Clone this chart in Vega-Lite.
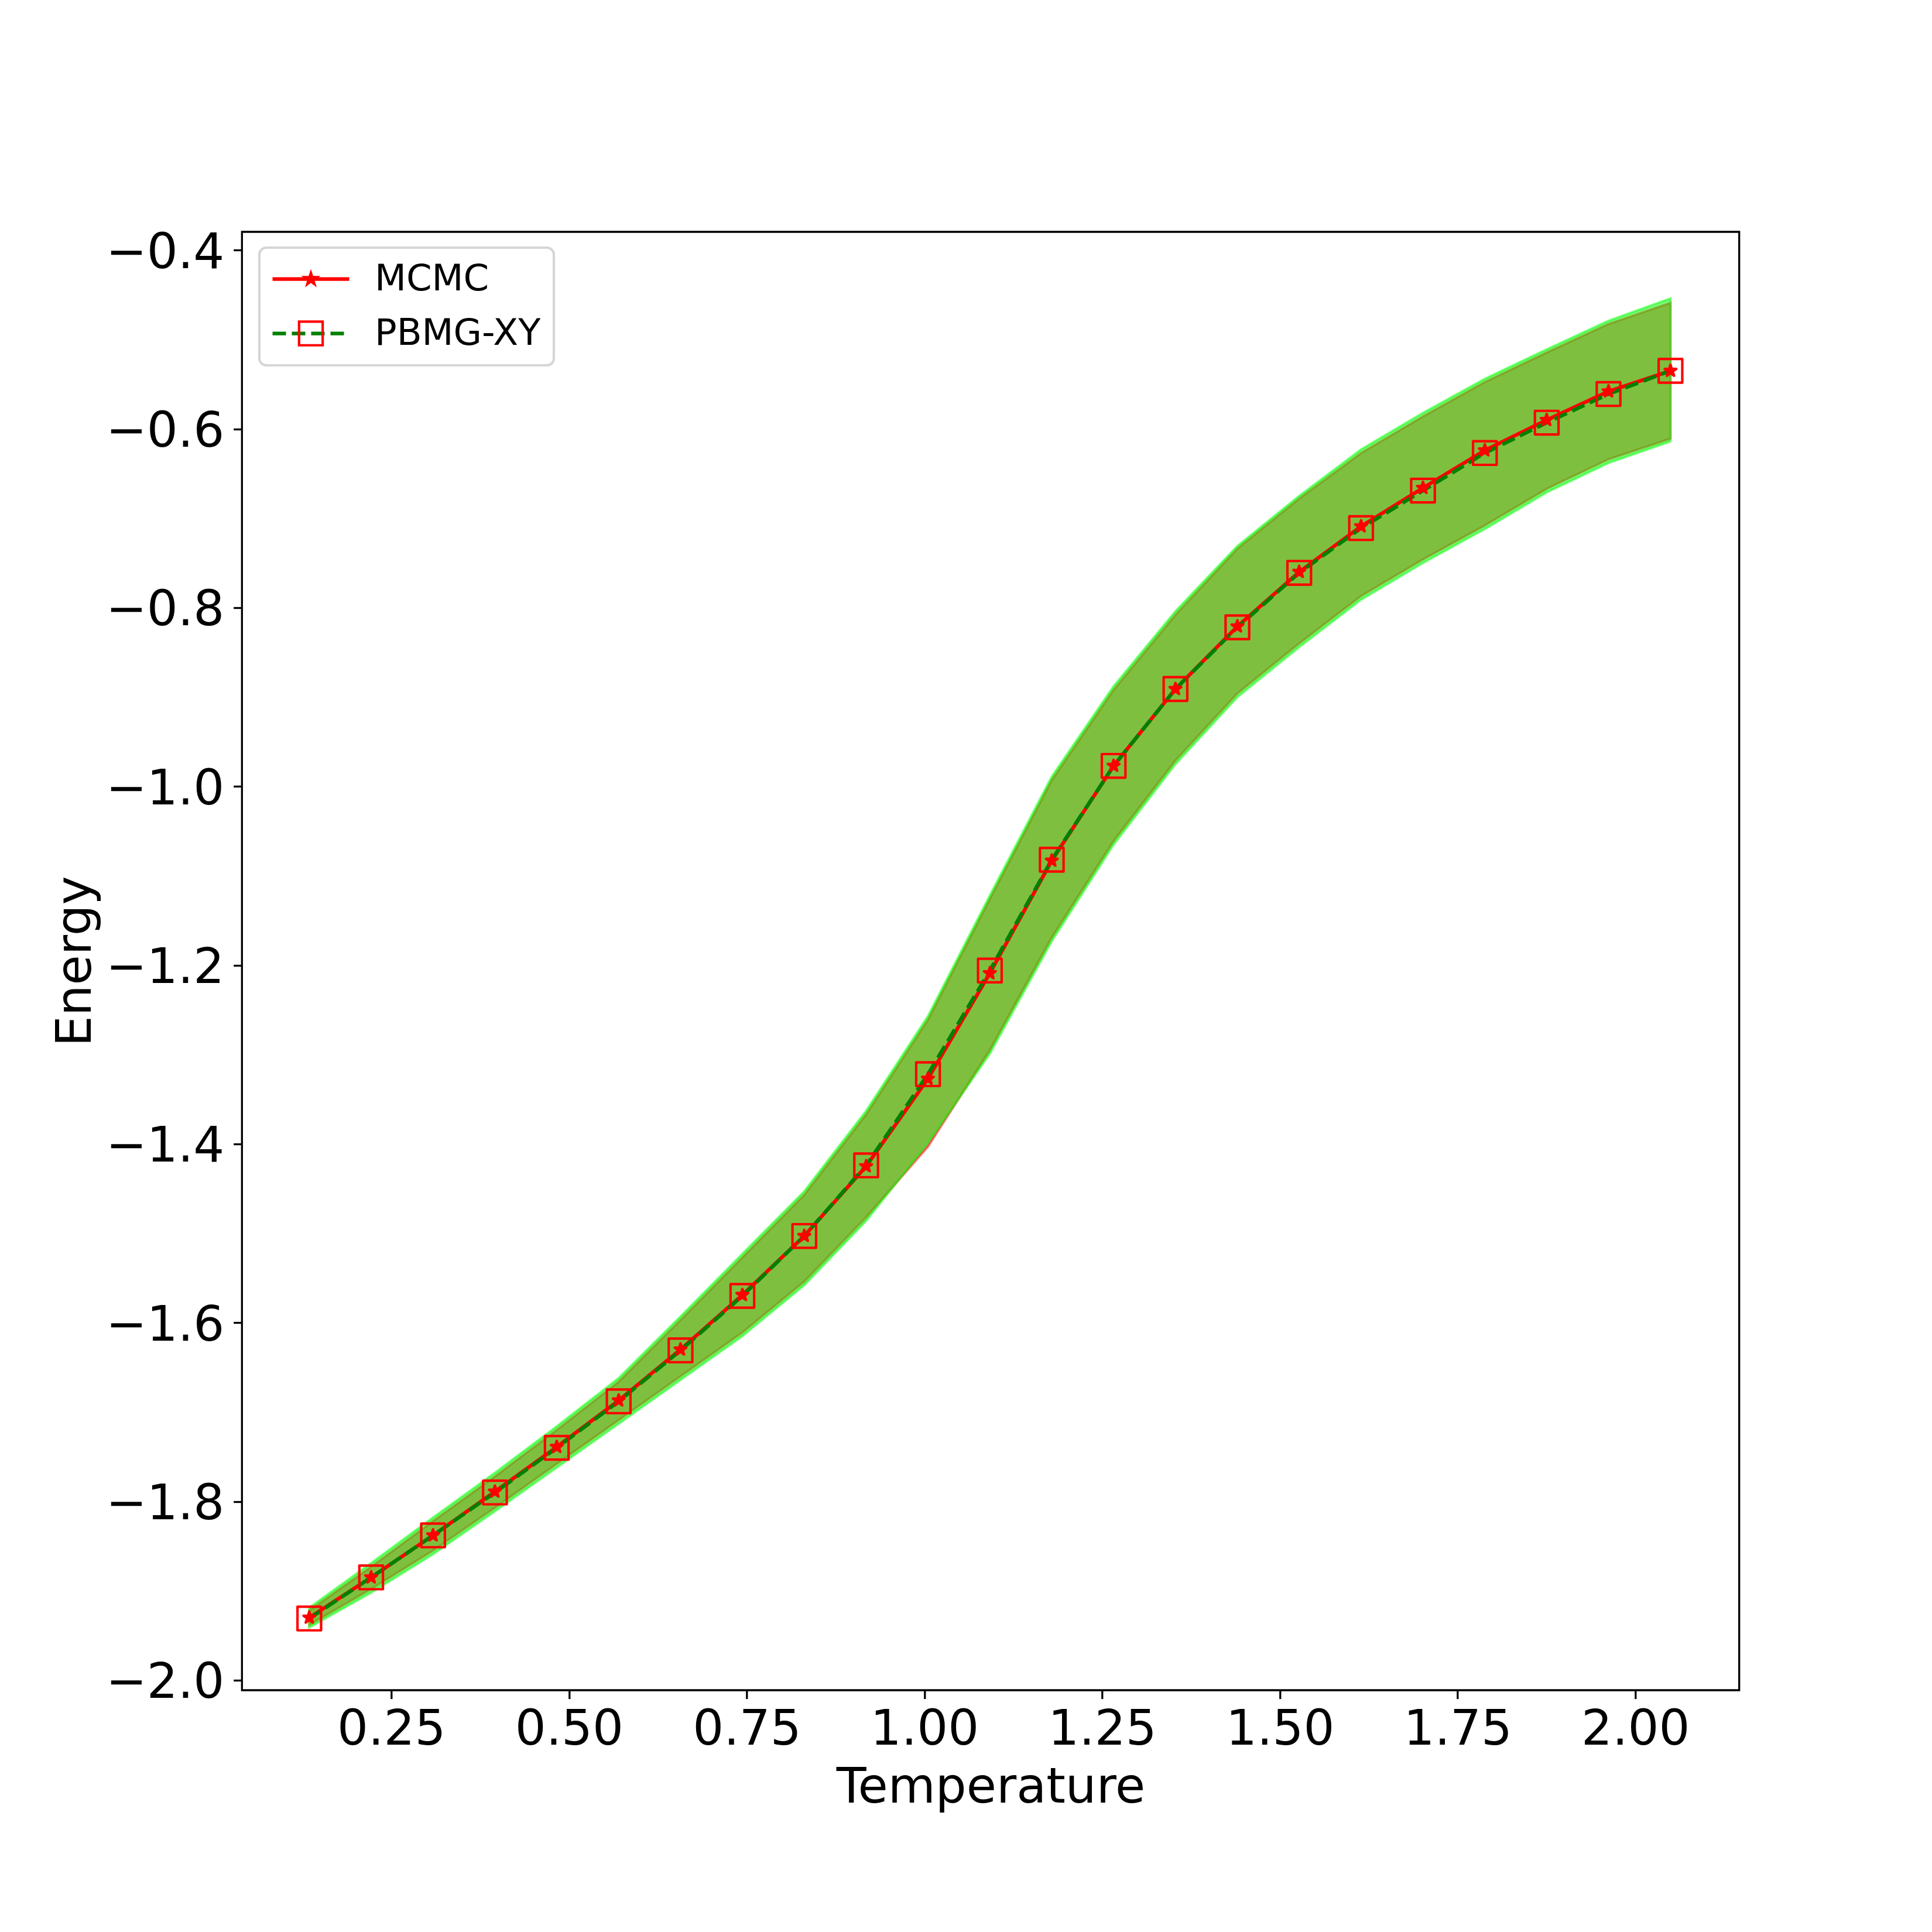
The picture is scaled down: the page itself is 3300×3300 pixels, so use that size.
{
  "$schema": "https://vega.github.io/schema/vega-lite/v6.json",
  "width": 2557.4,
  "height": 2491,
  "autosize": {"type": "none"},
  "padding": {"left": 413.3, "top": 396, "right": 329.3, "bottom": 413},
  "background": "white",
  "config": {
    "font": "DejaVu Sans",
    "view": {"stroke": "black", "strokeWidth": 3.3},
    "axis": {
      "grid": false,
      "domain": false,
      "tickColor": "black",
      "tickWidth": 3.3,
      "tickSize": 14.6,
      "labelFont": "DejaVu Sans",
      "labelFontSize": 83.3,
      "labelColor": "black",
      "labelFlush": false,
      "labelOverlap": false,
      "labelLimit": 0,
      "titleFont": "DejaVu Sans",
      "titleFontSize": 83.3,
      "titleFontWeight": "normal",
      "titleColor": "black",
      "titleLimit": 0
    }
  },
  "data": {
    "values": [
      {"T": 0.1347, "series": "MCMC", "E": -1.930, "hi": -1.922, "lo": -1.938},
      {"T": 0.2217, "series": "MCMC", "E": -1.885, "hi": -1.873, "lo": -1.898},
      {"T": 0.3088, "series": "MCMC", "E": -1.838, "hi": -1.822, "lo": -1.855},
      {"T": 0.3958, "series": "MCMC", "E": -1.789, "hi": -1.772, "lo": -1.807},
      {"T": 0.4828, "series": "MCMC", "E": -1.739, "hi": -1.720, "lo": -1.758},
      {"T": 0.5699, "series": "MCMC", "E": -1.687, "hi": -1.666, "lo": -1.709},
      {"T": 0.6569, "series": "MCMC", "E": -1.630, "hi": -1.597, "lo": -1.660},
      {"T": 0.7439, "series": "MCMC", "E": -1.569, "hi": -1.527, "lo": -1.611},
      {"T": 0.8310, "series": "MCMC", "E": -1.503, "hi": -1.457, "lo": -1.554},
      {"T": 0.9180, "series": "MCMC", "E": -1.425, "hi": -1.367, "lo": -1.482},
      {"T": 1.0050, "series": "MCMC", "E": -1.327, "hi": -1.261, "lo": -1.403},
      {"T": 1.0920, "series": "MCMC", "E": -1.209, "hi": -1.126, "lo": -1.295},
      {"T": 1.1791, "series": "MCMC", "E": -1.083, "hi": -0.993, "lo": -1.169},
      {"T": 1.2661, "series": "MCMC", "E": -0.977, "hi": -0.892, "lo": -1.061},
      {"T": 1.3531, "series": "MCMC", "E": -0.891, "hi": -0.808, "lo": -0.971},
      {"T": 1.4402, "series": "MCMC", "E": -0.821, "hi": -0.734, "lo": -0.896},
      {"T": 1.5272, "series": "MCMC", "E": -0.760, "hi": -0.678, "lo": -0.840},
      {"T": 1.6142, "series": "MCMC", "E": -0.709, "hi": -0.627, "lo": -0.787},
      {"T": 1.7013, "series": "MCMC", "E": -0.666, "hi": -0.586, "lo": -0.746},
      {"T": 1.7883, "series": "MCMC", "E": -0.624, "hi": -0.5475, "lo": -0.708},
      {"T": 1.8753, "series": "MCMC", "E": -0.590, "hi": -0.5145, "lo": -0.667},
      {"T": 1.9623, "series": "MCMC", "E": -0.558, "hi": -0.4825, "lo": -0.634},
      {"T": 2.0494, "series": "MCMC", "E": -0.535, "hi": -0.459, "lo": -0.611},
      {"T": 0.1347, "series": "PBMG-XY", "E": -1.931, "hi": -1.919, "lo": -1.941},
      {"T": 0.2217, "series": "PBMG-XY", "E": -1.885, "hi": -1.869, "lo": -1.902},
      {"T": 0.3088, "series": "PBMG-XY", "E": -1.838, "hi": -1.818, "lo": -1.859},
      {"T": 0.3958, "series": "PBMG-XY", "E": -1.790, "hi": -1.768, "lo": -1.811},
      {"T": 0.4828, "series": "PBMG-XY", "E": -1.740, "hi": -1.716, "lo": -1.762},
      {"T": 0.5699, "series": "PBMG-XY", "E": -1.688, "hi": -1.662, "lo": -1.713},
      {"T": 0.6569, "series": "PBMG-XY", "E": -1.631, "hi": -1.593, "lo": -1.664},
      {"T": 0.7439, "series": "PBMG-XY", "E": -1.570, "hi": -1.523, "lo": -1.615},
      {"T": 0.8310, "series": "PBMG-XY", "E": -1.503, "hi": -1.453, "lo": -1.558},
      {"T": 0.9180, "series": "PBMG-XY", "E": -1.424, "hi": -1.363, "lo": -1.486},
      {"T": 1.0050, "series": "PBMG-XY", "E": -1.322, "hi": -1.257, "lo": -1.399},
      {"T": 1.0920, "series": "PBMG-XY", "E": -1.206, "hi": -1.122, "lo": -1.299},
      {"T": 1.1791, "series": "PBMG-XY", "E": -1.082, "hi": -0.989, "lo": -1.173},
      {"T": 1.2661, "series": "PBMG-XY", "E": -0.977, "hi": -0.888, "lo": -1.065},
      {"T": 1.3531, "series": "PBMG-XY", "E": -0.891, "hi": -0.804, "lo": -0.975},
      {"T": 1.4402, "series": "PBMG-XY", "E": -0.822, "hi": -0.731, "lo": -0.900},
      {"T": 1.5272, "series": "PBMG-XY", "E": -0.761, "hi": -0.675, "lo": -0.844},
      {"T": 1.6142, "series": "PBMG-XY", "E": -0.711, "hi": -0.623, "lo": -0.791},
      {"T": 1.7013, "series": "PBMG-XY", "E": -0.669, "hi": -0.582, "lo": -0.750},
      {"T": 1.7883, "series": "PBMG-XY", "E": -0.627, "hi": -0.544, "lo": -0.712},
      {"T": 1.8753, "series": "PBMG-XY", "E": -0.593, "hi": -0.511, "lo": -0.671},
      {"T": 1.9623, "series": "PBMG-XY", "E": -0.561, "hi": -0.479, "lo": -0.638},
      {"T": 2.0494, "series": "PBMG-XY", "E": -0.535, "hi": -0.454, "lo": -0.614}
    ]
  },
  "encoding": {
    "x": {
      "field": "T",
      "type": "quantitative",
      "scale": {"domain": [0.040, 2.1461], "nice": false, "zero": false},
      "axis": {
        "values": [0.25, 0.5, 0.75, 1.0, 1.25, 1.5, 1.75, 2.0],
        "format": ".2f",
        "title": "Temperature",
        "labelPadding": 12,
        "labelBaseline": "top",
        "titleX": 1278.7,
        "titleY": 191,
        "titleBaseline": "alphabetic",
        "titleAlign": "center"
      }
    }
  },
  "layer": [
    {
      "transform": [{"filter": "datum.series === 'MCMC'"}],
      "mark": {"type": "area", "fill": "#ff0000", "fillOpacity": 0.5, "stroke": "#ff0000", "strokeOpacity": 0.5, "strokeWidth": 4},
      "encoding": {
        "y": {
          "field": "hi",
          "type": "quantitative",
          "scale": {"domain": [-2.0112, -0.3795], "nice": false, "zero": false},
          "axis": {
            "values": [-2.0, -1.8, -1.6, -1.4, -1.2, -1.0, -0.8, -0.6, -0.4],
            "format": ".1f",
            "title": "Energy",
            "labelPadding": 16,
            "labelBaseline": "middle",
            "labelOffset": 5,
            "titleX": -259.3,
            "titleY": 1245.5,
            "titleAngle": 270,
            "titleBaseline": "alphabetic",
            "titleAlign": "center"
          }
        },
        "y2": {"field": "lo"}
      }
    },
    {
      "transform": [{"filter": "datum.series === 'PBMG-XY'"}],
      "mark": {"type": "area", "fill": "#00ff00", "fillOpacity": 0.5, "stroke": "#00ff00", "strokeOpacity": 0.5, "strokeWidth": 4},
      "encoding": {
        "y": {
          "field": "hi",
          "type": "quantitative",
          "scale": {"domain": [-2.0112, -0.3795], "nice": false, "zero": false},
          "axis": {
            "values": [-2.0, -1.8, -1.6, -1.4, -1.2, -1.0, -0.8, -0.6, -0.4],
            "format": ".1f",
            "title": "Energy",
            "labelPadding": 16,
            "labelBaseline": "middle",
            "labelOffset": 5,
            "titleX": -259.3,
            "titleY": 1245.5,
            "titleAngle": 270,
            "titleBaseline": "alphabetic",
            "titleAlign": "center"
          }
        },
        "y2": {"field": "lo"}
      }
    },
    {
      "mark": {"type": "line", "strokeWidth": 6.25},
      "encoding": {
        "y": {
          "field": "E",
          "type": "quantitative",
          "scale": {"domain": [-2.0112, -0.3795], "nice": false, "zero": false},
          "axis": {
            "values": [-2.0, -1.8, -1.6, -1.4, -1.2, -1.0, -0.8, -0.6, -0.4],
            "format": ".1f",
            "title": "Energy",
            "labelPadding": 16,
            "labelBaseline": "middle",
            "labelOffset": 5,
            "titleX": -259.3,
            "titleY": 1245.5,
            "titleAngle": 270,
            "titleBaseline": "alphabetic",
            "titleAlign": "center"
          }
        },
        "color": {
          "field": "series",
          "type": "nominal",
          "scale": {"domain": ["MCMC", "PBMG-XY"], "range": ["#ff0000", "#008000"]},
          "legend": {
            "title": null,
            "orient": "none",
            "legendX": 29.7,
            "legendY": 27,
            "padding": 22,
            "symbolType": "stroke",
            "symbolSize": 17161,
            "symbolStrokeWidth": 6.25,
            "symbolOffset": -3,
            "labelOffset": 40,
            "clipHeight": 63.4,
            "rowPadding": 28.9,
            "labelFont": "DejaVu Sans",
            "labelFontSize": 62.5,
            "labelColor": "black",
            "labelLimit": 0,
            "strokeColor": "#d6d6d6",
            "fillColor": "rgba(255,255,255,0.8)",
            "cornerRadius": 12,
            "encode": {"legend": {"update": {"strokeWidth": {"value": 4.2}}}}
          }
        },
        "strokeDash": {
          "field": "series",
          "type": "nominal",
          "scale": {"domain": ["MCMC", "PBMG-XY"], "range": [[1, 0], [23, 10]]},
          "legend": {
            "title": null,
            "orient": "none",
            "legendX": 29.7,
            "legendY": 27,
            "padding": 22,
            "symbolType": "stroke",
            "symbolSize": 17161,
            "symbolStrokeWidth": 6.25,
            "symbolOffset": -3,
            "labelOffset": 40,
            "clipHeight": 63.4,
            "rowPadding": 28.9,
            "labelFont": "DejaVu Sans",
            "labelFontSize": 62.5,
            "labelColor": "black",
            "labelLimit": 0,
            "strokeColor": "#d6d6d6",
            "fillColor": "rgba(255,255,255,0.8)",
            "cornerRadius": 12,
            "encode": {"legend": {"update": {"strokeWidth": {"value": 4.2}}}}
          }
        }
      }
    },
    {
      "mark": {"type": "point", "filled": true, "stroke": "#ff0000", "strokeWidth": 4.2, "strokeJoin": "round", "size": 17161, "opacity": 1},
      "encoding": {
        "y": {
          "field": "E",
          "type": "quantitative",
          "scale": {"domain": [-2.0112, -0.3795], "nice": false, "zero": false},
          "axis": {
            "values": [-2.0, -1.8, -1.6, -1.4, -1.2, -1.0, -0.8, -0.6, -0.4],
            "format": ".1f",
            "title": "Energy",
            "labelPadding": 16,
            "labelBaseline": "middle",
            "labelOffset": 5,
            "titleX": -259.3,
            "titleY": 1245.5,
            "titleAngle": 270,
            "titleBaseline": "alphabetic",
            "titleAlign": "center"
          }
        },
        "color": {
          "field": "series",
          "type": "nominal",
          "scale": {"domain": ["MCMC", "PBMG-XY"], "range": ["#ff0000", "transparent"]},
          "legend": {
            "title": null,
            "orient": "none",
            "legendX": 29.7,
            "legendY": 27,
            "padding": 22,
            "symbolSize": 17161,
            "symbolStrokeWidth": 4.2,
            "symbolStrokeColor": "#ff0000",
            "symbolOffset": -2,
            "labelOffset": 42,
            "clipHeight": 63.4,
            "rowPadding": 28.9,
            "labelFont": "DejaVu Sans",
            "labelFontSize": 62.5,
            "labelColor": "transparent",
            "labelLimit": 0,
            "encode": {"symbols": {"update": {"strokeJoin": {"value": "round"}}}}
          }
        },
        "shape": {
          "field": "series",
          "type": "nominal",
          "scale": {
            "domain": ["MCMC", "PBMG-XY"],
            "range": [
              "M0,-0.16L0.0359,-0.0494L0.1522,-0.0494L0.0581,0.0189L0.094,0.1294L0,0.0611L-0.094,0.1294L-0.0581,0.0189L-0.1522,-0.0494L-0.0359,-0.0494Z",
              "M-0.308,-0.308H0.308V0.308H-0.308Z"
            ]
          },
          "legend": {
            "title": null,
            "orient": "none",
            "legendX": 29.7,
            "legendY": 27,
            "padding": 22,
            "symbolSize": 17161,
            "symbolStrokeWidth": 4.2,
            "symbolStrokeColor": "#ff0000",
            "symbolOffset": -2,
            "labelOffset": 42,
            "clipHeight": 63.4,
            "rowPadding": 28.9,
            "labelFont": "DejaVu Sans",
            "labelFontSize": 62.5,
            "labelColor": "transparent",
            "labelLimit": 0,
            "encode": {"symbols": {"update": {"strokeJoin": {"value": "round"}}}}
          }
        }
      }
    }
  ],
  "resolve": {"scale": {"color": "independent", "strokeDash": "independent", "shape": "independent"}}
}
